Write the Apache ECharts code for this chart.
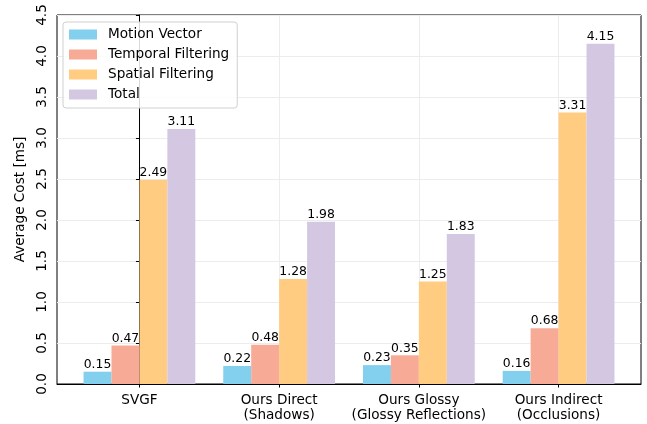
<!DOCTYPE html>
<html>
<head>
<meta charset="utf-8">
<script src="https://cdn.jsdelivr.net/npm/echarts@6/dist/echarts.min.js"></script>
<style>html,body{margin:0;padding:0;background:#fff}#c{width:647px;height:424px}</style>
</head>
<body>
<div id="c"></div>
<script>
const categories = ['SVGF', 'Ours Direct\n(Shadows)', 'Ours Glossy\n(Glossy Reflections)', 'Ours Indirect\n(Occlusions)'];
const seriesNames = ['Motion Vector', 'Temporal Filtering', 'Spatial Filtering', 'Total'];
const motionVector = [0.15, 0.22, 0.23, 0.16];
const temporalFiltering = [0.47, 0.48, 0.35, 0.68];
const spatialFiltering = [2.49, 1.28, 1.25, 3.31];
const total = [3.11, 1.98, 1.83, 4.15];
const yTicks = [0, 0.5, 1, 1.5, 2, 2.5, 3, 3.5, 4, 4.5];
const colors = ['#82CFEE', '#F7AA95', '#FFCC82', '#D4C7E2'];

const FONT = 'DejaVu Sans';
const chart = echarts.init(document.getElementById('c'), null, {renderer: 'canvas'});
const allValues = [motionVector, temporalFiltering, spatialFiltering, total];
const catIdx = categories.map((_, i) => i);

const series = allValues.map((vals, s) => ({
  name: seriesNames[s],
  type: 'bar',
  data: vals.map((v, i) => [i, v]),
  barCategoryGap: '20%',
  barGap: '0%',
  itemStyle: {color: colors[s]},
  label: {
    show: true, position: 'top', distance: 1,
    fontFamily: FONT, fontSize: 12.4, color: '#000',
    formatter: p => p.value[1].toFixed(2)
  }
}));

chart.setOption({
  animation: false,
  backgroundColor: '#fff',
  textStyle: {fontFamily: FONT},
  grid: {left: 57, right: 6, top: 15, bottom: 40, show: true, borderColor: '#000', borderWidth: 1, backgroundColor: 'transparent'},
  legend: {
    orient: 'vertical', left: 63, top: 22,
    data: seriesNames,
    itemWidth: 28, itemHeight: 10, itemGap: 5,
    icon: 'rect',
    padding: [5, 8, 6, 6],
    backgroundColor: 'rgba(255,255,255,0.85)',
    borderColor: '#d0d0d0', borderWidth: 1, borderRadius: 3,
    textStyle: {fontFamily: FONT, fontSize: 13.6, color: '#000', lineHeight: 15, padding: [0, 0, 0, 6]}
  },
  xAxis: {
    type: 'value', min: -0.59, max: 3.59, minInterval: 1, maxInterval: 1, splitNumber: 4,
    axisLine: {show: true, lineStyle: {color: '#000', width: 1}},
    axisTick: {show: true, inside: false, length: 3.5, lineStyle: {color: '#000'}, customValues: catIdx},
    splitLine: {show: true, lineStyle: {color: '#ececec', width: 1}},
    axisLabel: {
      customValues: catIdx,
      fontFamily: FONT, fontSize: 13.6, color: '#000', lineHeight: 15, margin: 9,
      formatter: v => (Number.isInteger(v) && categories[v] !== undefined) ? categories[v] : ''
    }
  },
  yAxis: {
    type: 'value', min: 0, max: 4.5, interval: 0.5,
    name: 'Average Cost [ms]', nameLocation: 'middle', nameGap: 30, nameRotate: 90,
    nameTextStyle: {fontFamily: FONT, fontSize: 13.6, color: '#000'},
    axisLine: {show: true, lineStyle: {color: '#000', width: 1}},
    axisTick: {show: true, inside: false, length: 3.5, lineStyle: {color: '#000'}},
    splitLine: {show: true, lineStyle: {color: '#ececec', width: 1}},
    axisLabel: {
      rotate: 90, margin: 8,
      fontFamily: FONT, fontSize: 13.6, color: '#000',
      formatter: v => v.toFixed(1)
    }
  },
  series: series
});
</script>
</body>
</html>
